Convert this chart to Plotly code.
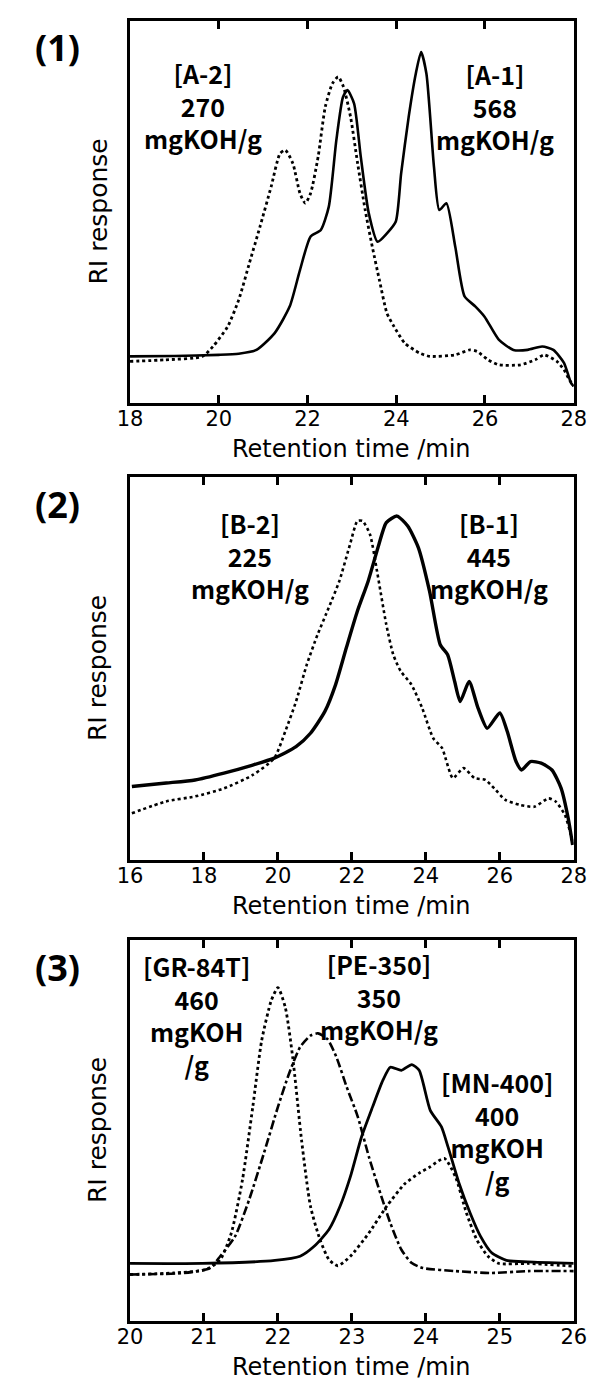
import plotly.graph_objects as go

# ---------------- Panel (1) ----------------
p1_a1_x = [18.0, 19.0, 20.0, 20.45, 20.85, 21.26, 21.6, 21.83, 22.07, 22.3, 22.48, 22.65, 22.8, 22.9,
           23.05, 23.2, 23.38, 23.58, 23.79, 23.99, 24.11, 24.28, 24.44, 24.56, 24.68, 24.85, 24.97,
           25.13, 25.33, 25.54, 25.78, 25.99, 26.31, 26.64, 26.96, 27.29, 27.54, 27.78, 27.94, 28.0]
p1_a1_y = [12.2, 12.3, 12.6, 12.9, 13.9, 18.3, 25.3, 34.8, 43.6, 45.3, 51.4, 68.8, 80.1, 81.9,
           78.4, 64.5, 49.7, 42.2, 44.4, 47.5, 60.1, 74.9, 86.2, 91.9, 86.2, 61.8, 50.5,
           52.3, 40.9, 27.9, 25.3, 22.6, 16.6, 13.9, 13.9, 14.8, 13.9, 10.5, 5.2, 4.4]

p1_a2_x = [18.0, 18.8, 19.63, 19.87, 20.2, 20.45, 20.69, 20.93, 21.18, 21.38, 21.5, 21.67, 21.83, 21.95,
           22.07, 22.24, 22.4, 22.56, 22.69, 22.81, 22.97, 23.13, 23.3, 23.46, 23.62, 23.79, 23.95,
           24.19, 24.52, 24.76, 25.33, 25.66, 25.82, 26.07, 26.31, 26.8, 27.13, 27.33, 27.62, 27.78,
           27.9, 28.0]
p1_a2_y = [10.9, 11.3, 12.2, 14.8, 20.0, 27.0, 36.6, 46.2, 56.6, 65.3, 66.2, 62.7, 54.9, 52.3,
           54.9, 64.5, 77.5, 83.6, 85.4, 82.8, 74.9, 62.7, 50.5, 40.9, 32.2, 23.5, 20.0,
           15.7, 13.1, 12.2, 12.6, 13.9, 13.5, 11.3, 10.0, 10.0, 11.3, 12.6, 10.9, 8.7,
           6.1, 4.4]

# ---------------- Panel (2) ----------------
p2_b1_x = [16.05, 16.98, 17.76, 18.54, 19.32, 19.9, 20.49, 20.88, 21.27, 21.56, 21.85, 22.15, 22.44,
           22.73, 22.93, 23.22, 23.51, 23.8, 24.1, 24.39, 24.59, 24.78, 24.93, 25.17, 25.41, 25.66,
           26.0, 26.2, 26.44, 26.59, 26.83, 27.12, 27.41, 27.66, 27.85, 27.97]
p2_b1_y = [19.2, 20.1, 20.9, 22.7, 24.8, 26.6, 29.6, 33.1, 38.8, 45.8, 55.4, 65.0, 72.8,
           82.4, 88.1, 89.8, 87.2, 81.5, 70.2, 56.2, 53.6, 46.6, 41.4, 46.6, 39.7, 34.4,
           38.4, 33.6, 25.7, 23.5, 25.7, 25.3, 23.5, 18.7, 10.9, 3.9]

p2_b2_x = [16.05, 16.98, 17.76, 18.54, 19.32, 19.9, 20.2, 20.49, 20.78, 21.07, 21.37, 21.66, 21.95,
           22.15, 22.29, 22.49, 22.68, 22.93, 23.12, 23.32, 23.61, 23.9, 24.2, 24.44, 24.73, 25.02,
           25.32, 25.61, 25.85, 26.15, 26.54, 26.93, 27.32, 27.51, 27.76, 27.9, 27.97]
p2_b2_y = [12.2, 15.3, 16.6, 18.7, 22.2, 26.6, 33.6, 41.4, 51.0, 58.8, 65.8, 72.8, 82.4,
           88.5, 88.5, 85.0, 75.4, 61.5, 53.6, 49.3, 45.8, 39.7, 31.8, 29.2, 21.4, 24.0,
           21.4, 20.9, 18.7, 15.7, 14.4, 13.9, 16.1, 15.3, 11.8, 7.4, 4.4]

# ---------------- Panel (3) ----------------
p3_mn_x = [20.0, 20.98, 21.96, 22.3, 22.49, 22.69, 22.84, 22.98, 23.13, 23.28, 23.42, 23.52, 23.67,
           23.81, 23.91, 24.06, 24.21, 24.3, 24.45, 24.6, 24.74, 24.89, 25.09, 25.38, 26.0]
p3_mn_y = [15.1, 15.1, 15.9, 17.0, 19.6, 24.0, 30.1, 37.9, 48.3, 56.2, 63.2, 66.6, 65.8,
           67.3, 65.8, 55.3, 51.0, 45.7, 36.1, 28.3, 22.2, 17.9, 15.9, 15.5, 15.1]

p3_gr_x = [20.0, 20.59, 21.03, 21.22, 21.37, 21.52, 21.66, 21.78, 21.91, 22.0, 22.1, 22.2, 22.32,
           22.44, 22.57, 22.69, 22.81, 22.98, 23.23, 23.47, 23.72, 23.91, 24.06, 24.25, 24.4,
           24.55, 24.69, 24.84, 24.99, 25.38, 26.0]
p3_gr_y = [12.2, 12.6, 13.5, 16.1, 23.1, 37.0, 56.2, 73.6, 84.1, 87.5, 82.3, 69.2, 47.4,
           30.1, 21.3, 16.1, 14.5, 17.0, 23.1, 30.1, 36.1, 38.8, 40.5, 42.7, 37.9,
           28.3, 21.3, 17.0, 15.1, 15.1, 14.4]

p3_pe_x = [20.0, 20.73, 21.08, 21.22, 21.42, 21.61, 21.81, 22.0, 22.15, 22.3, 22.44, 22.54, 22.67,
           22.79, 22.93, 23.08, 23.23, 23.37, 23.52, 23.67, 23.81, 23.96, 24.4, 24.89, 25.38, 26.0]
p3_pe_y = [12.2, 12.6, 13.9, 17.0, 22.2, 31.8, 44.0, 56.2, 64.9, 71.9, 74.9, 75.5, 74.0,
           69.3, 61.4, 53.6, 43.1, 34.4, 25.7, 18.7, 15.2, 13.9, 13.1, 12.6, 13.1, 13.1]

# ---------------- Labels ----------------
panel_labels = ["(1)", "(2)", "(3)"]
x_title = "Retention time /min"
y_title = "RI response"

p1_text = ["[A-2]<br>270<br>mgKOH/g", "[A-1]<br>568<br>mgKOH/g"]
p1_tx = [19.65, 26.22]
p1_ty = [78.0, 77.6]

p2_text = ["[B-2]<br>225<br>mgKOH/g", "[B-1]<br>445<br>mgKOH/g"]
p2_tx = [19.25, 25.72]
p2_ty = [79.4, 79.4]

p3_text = ["[GR-84T]<br>460<br>mgKOH<br>/g", "[PE-350]<br>350<br>mgKOH/g",
           "[MN-400]<br>400<br>mgKOH<br>/g"]
p3_tx = [20.9, 23.37, 24.96]
p3_ty = [80.2, 85.1, 49.8]

x_ranges = [[18, 28], [16, 28], [20, 26]]
x_dticks = [2, 2, 1]

W, H = 595, 1379
box_left, box_right = 114, 578
box_tb = [(13, 395), (469, 852), (932, 1313)]

fig = go.Figure()

def add_line(x, y, ax, dash, width):
    fig.add_trace(go.Scatter(x=x, y=y, mode="lines", xaxis="x" + ax, yaxis="y" + ax,
                             line=dict(color="black", width=width, dash=dash, shape="spline",
                                       smoothing=0.6),
                             showlegend=False, hoverinfo="skip"))

add_line(p1_a1_x, p1_a1_y, "", "solid", 2.6)
add_line(p1_a2_x, p1_a2_y, "", "dot", 2.8)
add_line(p2_b1_x, p2_b1_y, "2", "solid", 3.4)
add_line(p2_b2_x, p2_b2_y, "2", "dot", 2.6)
add_line(p3_mn_x, p3_mn_y, "3", "solid", 2.8)
add_line(p3_gr_x, p3_gr_y, "3", "dot", 2.8)
add_line(p3_pe_x, p3_pe_y, "3", "dashdot", 2.6)

axis_font = dict(family="DejaVu Sans", size=21, color="black")
layout = dict(width=W, height=H, margin=dict(l=0, r=0, t=0, b=0),
              paper_bgcolor="white", plot_bgcolor="white", showlegend=False)

annotations = []
names = ["", "2", "3"]
for i, n in enumerate(names):
    top, bot = box_tb[i]
    xd = [box_left / W, box_right / W]
    yd = [1 - bot / H, 1 - top / H]
    layout["xaxis" + n] = dict(domain=xd, range=x_ranges[i], dtick=x_dticks[i], tick0=0,
                               anchor="y" + n, showgrid=False, zeroline=False,
                               showline=True, linewidth=3, linecolor="black", mirror="ticks",
                               ticks="inside", ticklen=8, tickwidth=2.5, tickcolor="black",
                               ticklabelstandoff=-5, tickfont=axis_font)
    layout["yaxis" + n] = dict(domain=yd, range=[0, 100], anchor="x" + n, showgrid=False,
                               zeroline=False, showline=True, linewidth=3, linecolor="black",
                               mirror=True, ticks="", showticklabels=False)
    xr = "x" + n + " domain" if n else "x domain"
    yr = "y" + n + " domain" if n else "y domain"
    annotations.append(dict(text=x_title, xref=xr, yref=yr, x=0.5, y=0, yshift=-46,
                            xanchor="center", yanchor="middle", showarrow=False,
                            font=dict(family="DejaVu Sans", size=24, color="black")))
    annotations.append(dict(text=y_title, xref="paper", yref=yr, x=80 / W, y=0.5,
                            xanchor="center", yanchor="middle", textangle=-90, showarrow=False,
                            font=dict(family="DejaVu Sans", size=25, color="black")))
    annotations.append(dict(text=panel_labels[i], xref="paper", yref="paper", x=38 / W,
                            y=1 - (top + 27) / H, xanchor="center", yanchor="middle",
                            showarrow=False,
                            font=dict(family="Open Sans", size=36, color="black", weight="bold")))

label_font = dict(family="Noto Sans CJK JP", size=25, color="black", weight="bold")
for txts, xs, ys, n in [(p1_text, p1_tx, p1_ty, ""), (p2_text, p2_tx, p2_ty, "2"),
                        (p3_text, p3_tx, p3_ty, "3")]:
    for t, xv, yv in zip(txts, xs, ys):
        annotations.append(dict(text=t, x=xv, y=yv, xref="x" + n, yref="y" + n,
                                xanchor="center", yanchor="middle", align="center",
                                showarrow=False, font=label_font))

layout["annotations"] = annotations
fig.update_layout(**layout)
fig.write_html("out.html")
